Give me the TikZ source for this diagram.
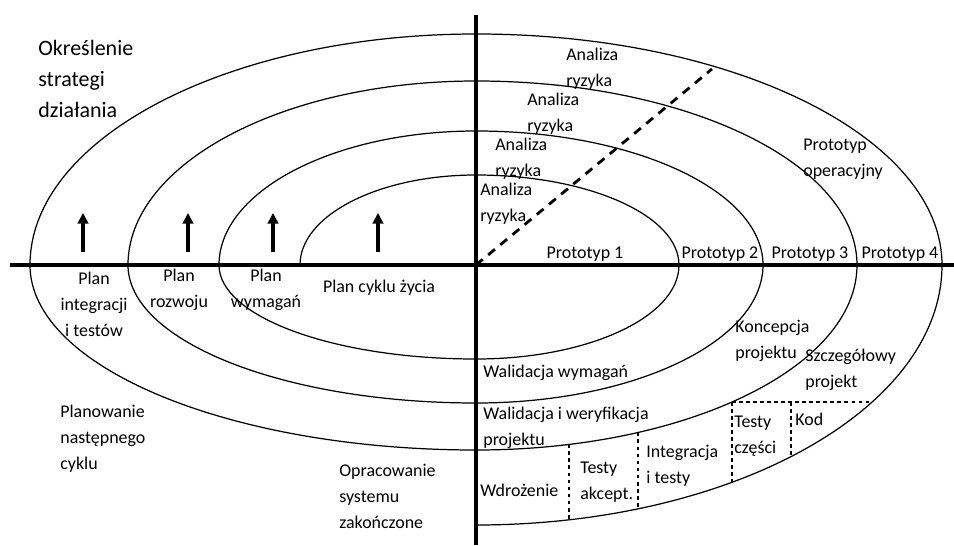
\documentclass[tikz,border=0pt]{standalone}
\usepackage{fontspec}
\setmainfont{Carlito}
\usetikzlibrary{arrows.meta}

\begin{document}
\begin{tikzpicture}[
  x=0.02cm, y=0.02cm,
  font=\fontsize{10.2}{14.8}\selectfont,
  axis/.style={line width=2pt},
  turn/.style={line width=0.7pt},
  up/.style={-{Triangle[length=6pt,width=6pt]},line width=1.8pt},
  risk/.style={line width=1.6pt,dash pattern=on 5pt off 4pt},
  cell/.style={line width=0.7pt,dash pattern=on 2.2pt off 1.8pt},
  lbl/.style={anchor=west,align=left,inner sep=0pt},
  ctr/.style={align=center,inner sep=0pt}
]
% page frame, origin where the axes cross
\useasboundingbox (-476,-280) rectangle (478,265);

% the two outer lower-right turns (for the dashed cells)
\def\yA#1{-185*sqrt(1-((#1)/381)^2)}
\def\yB#1{-260*sqrt(1-((#1)/466)^2)}

% axes
\draw[axis] (-466,0) -- (478,0);
\draw[axis] (0,250) -- (0,-280);

% spiral, quarter by quarter
\draw[turn] (-176,0)
  arc[start angle=180,end angle=90,x radius=176,y radius=90]
  arc[start angle=90,end angle=0,x radius=203,y radius=90]
  arc[start angle=0,end angle=-90,x radius=203,y radius=94]
  arc[start angle=-90,end angle=-180,x radius=257,y radius=94]
  arc[start angle=180,end angle=90,x radius=257,y radius=134]
  arc[start angle=90,end angle=0,x radius=287,y radius=134]
  arc[start angle=0,end angle=-90,x radius=287,y radius=138]
  arc[start angle=-90,end angle=-180,x radius=348,y radius=138]
  arc[start angle=180,end angle=90,x radius=348,y radius=184]
  arc[start angle=90,end angle=0,x radius=381,y radius=184]
  arc[start angle=0,end angle=-90,x radius=381,y radius=185]
  arc[start angle=-90,end angle=-180,x radius=446,y radius=185]
  arc[start angle=180,end angle=90,x radius=446,y radius=231]
  arc[start angle=90,end angle=0,x radius=466,y radius=231]
  arc[start angle=0,end angle=-90,x radius=466,y radius=260];

% risk line and planning arrows
\draw[risk] (0,0) -- (236,196);
\foreach \x in {-393,-288,-203,-98} \draw[up] (\x,13) -- (\x,52);

% dashed cells of the last turn
\draw[cell] ({381*sqrt(1-(137/185)^2)},-137) -- ({466*sqrt(1-(137/260)^2)},-137);
\foreach \x in {93,162,256} \draw[cell] (\x,{\yA{\x}}) -- (\x,{\yB{\x}});
\draw[cell] (315,-137) -- (315,{\yB{315}});

% upper left
\node[lbl,font=\fontsize{12.5}{17.5}\selectfont] (strat) at (-438,186) {Określenie\\strategi\\działania};

% upper right
\node[lbl] (risk1) at (90,196) {Analiza\\ryzyka};
\node[lbl] (risk2) at (51,151) {Analiza\\ryzyka};
\node[lbl] (risk3) at (19,106) {Analiza\\ryzyka};
\node[lbl] (risk4) at (4,61) {Analiza\\ryzyka};
\node[lbl] (oper) at (327,106) {Prototyp\\operacyjny};
\node[ctr] (proto1) at (109,11) {Prototyp 1};
\node[ctr] (proto2) at (244,11) {Prototyp 2};
\node[ctr] (proto3) at (334,11) {Prototyp 3};
\node[ctr] (proto4) at (424,11) {Prototyp 4};

% lower left
\node[ctr] (pint) at (-382,-39) {Plan\\integracji\\i testów};
\node[ctr] (proz) at (-297,-25) {Plan\\rozwoju};
\node[ctr] (pwym) at (-210,-25) {Plan\\wymagań};
\node[ctr] (pcyk) at (-97,-23) {Plan cyklu życia};
\node[lbl] (next) at (-416,-174) {Planowanie\\następnego\\cyklu};
\node[lbl] (done) at (-137,-231) {Opracowanie\\systemu\\zakończone};

% lower right
\node[lbl] (valreq) at (7,-108) {Walidacja wymagań};
\node[lbl] (valver) at (7,-163) {Walidacja i weryfikacja\\projektu};
\node[lbl] (concept) at (259,-76) {Koncepcja\\projektu};
\node[lbl] (detail) at (329,-105) {Szczegółowy\\projekt};
\node[lbl] (deploy) at (4,-225) {Wdrożenie};
\node[lbl] (accept) at (104,-217) {Testy\\akcept.};
\node[lbl] (integ) at (170,-201) {Integracja\\i testy};
\node[lbl] (unit) at (258,-171) {Testy\\części};
\node[lbl] (code) at (319,-154) {Kod};
\end{tikzpicture}
\end{document}
